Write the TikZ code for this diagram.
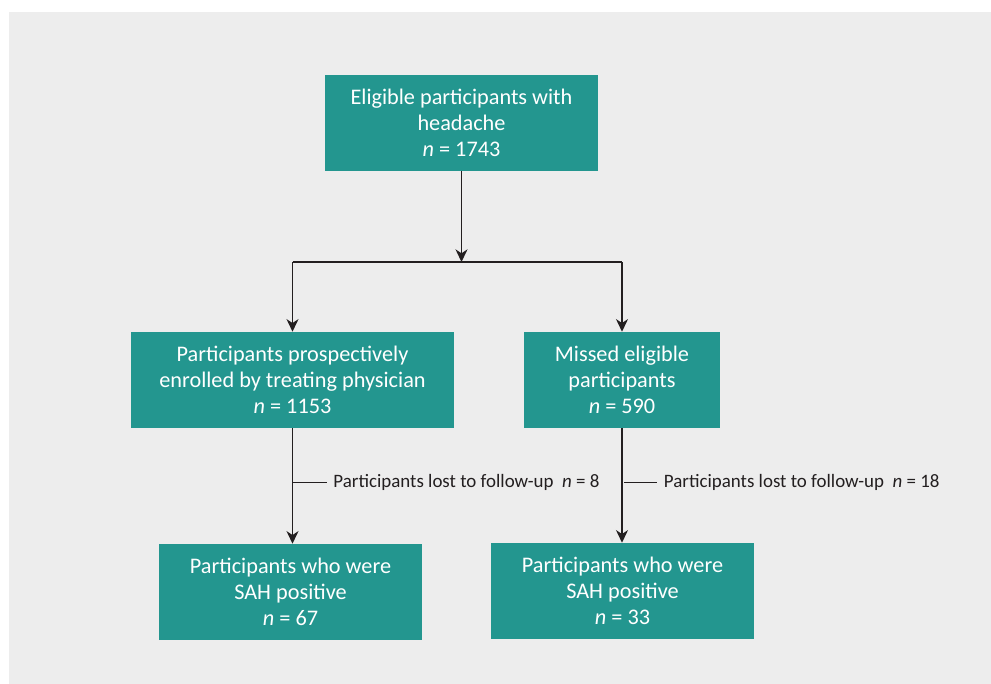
\documentclass[tikz,border=0pt]{standalone}
\usepackage{fontspec}
\setmainfont{Carlito}
\usetikzlibrary{arrows.meta,calc}
\definecolor{BoxClr}{HTML}{23968F}
\definecolor{PanelClr}{HTML}{EDEDED}
\definecolor{LineClr}{HTML}{231F20}

\begin{document}
\begin{tikzpicture}[x=0.75pt,y=-0.75pt,
  box/.style={fill=BoxClr,text=white,align=center,inner sep=0pt,
    minimum height=72pt,font=\fontsize{16.7}{19.5}\selectfont},
  lost/.style={anchor=west,inner xsep=5pt,text=LineClr,
    font=\fontsize{14.2}{16}\selectfont},
  link/.style={draw=LineClr,line width=1.1pt},
  arr/.style={link,-{Stealth[length=9.5pt,width=9pt,inset=3pt]}}]

% panel
\fill[white] (0,0) rectangle (991,684);
\fill[PanelClr] (9,12) rectangle (991,684);

% boxes
\node[box,minimum width=204.75pt] (elig) at (461.5,123)
  {Eligible participants with\\headache\\\textit{n} = 1743};
\node[box,minimum width=242.25pt] (enrol) at (292.5,380)
  {Participants prospectively\\enrolled by treating physician\\\textit{n} = 1153};
\node[box,minimum width=147pt] (missed) at (622,380)
  {Missed eligible\\participants\\\textit{n} = 590};
\node[box,minimum width=197.25pt] (posL) at (290.5,592)
  {Participants who were\\SAH positive\\\textit{n} = 67};
\node[box,minimum width=197.25pt] (posR) at (622.5,591)
  {Participants who were\\SAH positive\\\textit{n} = 33};

% split
\coordinate (split) at (461.5,262);
\draw[arr] (elig.south) -- (split);
\draw[link] (split -| enrol.north) -- (split -| missed.north);
\draw[arr] (split -| enrol.north) -- (enrol.north);
\draw[arr] (split -| missed.north) -- (missed.north);

% follow-up
\draw[arr] (enrol.south) -- (enrol.south |- posL.north);
\draw[arr] (missed.south) -- (missed.south |- posR.north);
\coordinate (lossL) at ($(enrol.south)+(0,54)$);
\coordinate (lossR) at ($(missed.south)+(2,54)$);
\node[lost] (lostL) at ($(lossL)+(34,0)$) {Participants lost to follow-up\ \ \textit{n} = 8};
\node[lost] (lostR) at ($(lossR)+(33,0)$) {Participants lost to follow-up\ \ \textit{n} = 18};
\draw[link] (lossL) -- (lostL.west);
\draw[link] (lossR) -- (lostR.west);

\end{tikzpicture}
\end{document}
